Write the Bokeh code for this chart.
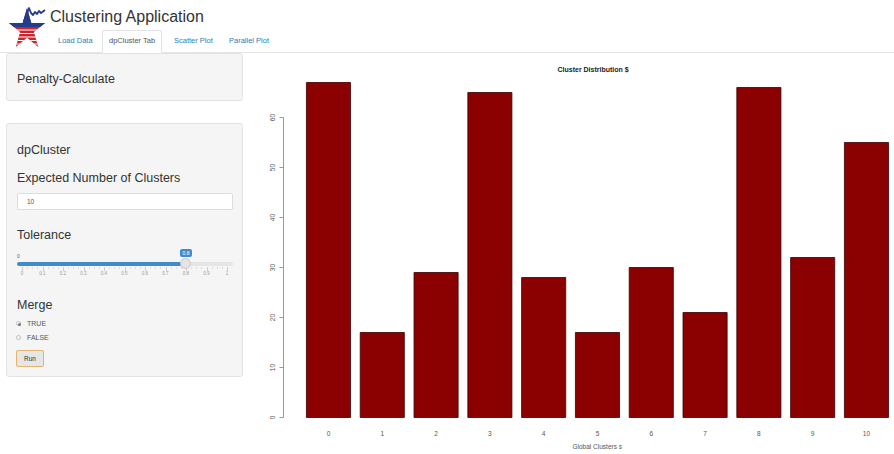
from bokeh.plotting import figure
from bokeh.models import Div, FixedTicker, Range1d, Title
from bokeh.layouts import column, row
from bokeh.embed import file_html
from bokeh.resources import INLINE

# ---------------- data ----------------
clusters = list(range(11))
counts = [67, 17, 29, 65, 28, 17, 30, 21, 66, 32, 55]
y_ticks = [0, 10, 20, 30, 40, 50, 60]
x_tick_labels = [str(c) for c in clusters]
chart_title = "Cluster Distribution $"
x_label = "Global Clusters s"

app_title = "Clustering Application"
tab_names = ["Load Data", "dpCluster Tab", "Scatter Plot", "Parallel Plot"]
slider_tick_labels = ["0", "0.1", "0.2", "0.3", "0.4", "0.5", "0.6", "0.7", "0.8", "0.9", "1"]
slider_value = 0.8
expected_clusters = "10"
merge_options = ["TRUE", "FALSE"]

FONT = "'Liberation Sans', Arial, sans-serif"

# ---------------- header ----------------
star = [(27, 8.1), (31.3, 23.0), (45.1, 23.0), (33.9, 32.1), (38.2, 47.0),
        (27, 37.8), (15.8, 47.0), (20.1, 32.1), (8.9, 23.0), (22.7, 23.0)]
stripes = "".join(f'<line x1="0" y1="{y}" x2="50" y2="{y}" stroke="#fff" stroke-width="1.2"/>'
                  for y in (30, 33.5, 37, 40.5, 44))
logo_svg = f"""
<svg width="50" height="50" viewBox="0 0 50 50" style="position:absolute;left:0;top:0">
 <defs><clipPath id="starclip"><polygon points="{' '.join(f'{x},{y}' for x, y in star)}"/></clipPath></defs>
 <g clip-path="url(#starclip)">
  <rect x="0" y="0" width="50" height="50" fill="#c9252f"/>
  {stripes}
  <rect x="0" y="0" width="50" height="27" fill="#203e8f"/>
 </g>
 <polyline points="24,21 27,14 29,8 31,13 33,15 35,12 37,14 39,11 41,13 45,10" fill="none" stroke="#203e8f" stroke-width="1.8" stroke-linejoin="round"/>
</svg>
"""

tab_lefts = [58, 109, 174, 229]
tabs_html = ""
for name, left in zip(tab_names, tab_lefts):
    color = "#555" if name == "dpCluster Tab" else "#337ab7"
    tabs_html += (f'<div style="position:absolute;left:{left}px;top:36px;font-size:7.5px;'
                  f'line-height:10px;color:{color};white-space:nowrap">{name}</div>')

header_html = f"""
<div style="position:relative;width:894px;height:53px;font-family:{FONT};overflow:hidden;background:#fff">
 <div style="position:absolute;left:0;top:52px;width:894px;height:1px;background:#e4e4e4"></div>
 <div style="position:absolute;left:102px;top:30px;width:60px;height:23px;background:#fff;border:1px solid #e4e4e4;border-bottom:none;border-radius:3px 3px 0 0"></div>
 {logo_svg}
 <div style="position:absolute;left:50px;top:8px;font-size:16px;line-height:18px;color:#333;white-space:nowrap">{app_title}</div>
 {tabs_html}
</div>
"""
header = Div(text=header_html, width=894, height=53, margin=0)

# ---------------- sidebar ----------------
def heading(txt, top):
    return (f'<div style="position:absolute;left:17px;top:{top}px;font-size:12.5px;line-height:16px;'
            f'color:#333;white-space:nowrap">{txt}</div>')

slider_html = ""
for k, lab in enumerate(slider_tick_labels):
    cx = 22 + 20.5 * k
    slider_html += f'<div style="position:absolute;left:{cx:.1f}px;top:214px;width:1px;height:4px;background:#ccc"></div>'
    slider_html += (f'<div style="position:absolute;left:{cx - 10:.1f}px;top:218px;width:20px;text-align:center;'
                    f'font-size:4.5px;line-height:6px;color:#999">{lab}</div>')
    if k < 10:
        for m in range(1, 4):
            mx = cx + 20.5 * m / 4
            slider_html += f'<div style="position:absolute;left:{mx:.1f}px;top:214px;width:1px;height:2px;background:#ddd"></div>'

handle_x = 22 + 20.5 * 10 * slider_value
radio_html = ""
for i, opt in enumerate(merge_options):
    cy = 271 + 14 * i
    dot = '<div style="position:absolute;left:1px;top:1px;width:3px;height:3px;border-radius:50%;background:#777"></div>' if i == 0 else ""
    radio_html += (f'<div style="position:absolute;left:16px;top:{cy - 3}px;width:5px;height:5px;border:1px solid #bbb;'
                   f'border-radius:50%;background:#fff">{dot}</div>')
    radio_html += (f'<div style="position:absolute;left:27px;top:{cy - 5}px;font-size:7px;line-height:10px;color:#555">{opt}</div>')

sidebar_html = f"""
<div style="position:relative;width:248px;height:401px;font-family:{FONT};overflow:hidden;background:#fff">
 <div style="position:absolute;left:6px;top:0;width:237px;height:48px;box-sizing:border-box;background:#f5f5f5;border:1px solid #e3e3e3;border-radius:3px"></div>
 {heading("Penalty-Calculate", 18)}
 <div style="position:absolute;left:6px;top:70px;width:237px;height:254px;box-sizing:border-box;background:#f5f5f5;border:1px solid #e3e3e3;border-radius:3px"></div>
 {heading("dpCluster", 89)}
 {heading("Expected Number of Clusters", 117)}
 <div style="position:absolute;left:17px;top:140px;width:216px;height:17px;box-sizing:border-box;background:#fff;border:1px solid #ddd;border-radius:2px;font-size:6.5px;line-height:15px;padding-left:9px;color:#555">{expected_clusters}</div>
 {heading("Tolerance", 174)}
 <div style="position:absolute;left:17px;top:200px;font-size:5px;line-height:7px;color:#555">0</div>
 <div style="position:absolute;left:17px;top:209px;width:216px;height:4px;background:#e5e5e5;border-radius:2px"></div>
 <div style="position:absolute;left:17px;top:209px;width:{handle_x - 17:.1f}px;height:4px;background:#428bca;border-radius:2px"></div>
 {slider_html}
 <div style="position:absolute;left:{handle_x - 6:.1f}px;top:205px;width:11px;height:11px;border-radius:50%;background:#e4e4e4;border:1px solid #c8c8c8"></div>
 <div style="position:absolute;left:{handle_x - 6:.1f}px;top:196px;width:12px;height:8px;background:#428bca;border-radius:2px;color:#fff;font-size:5px;line-height:8px;text-align:center">{slider_value}</div>
 {heading("Merge", 244)}
 {radio_html}
 <div style="position:absolute;left:16px;top:297px;width:28px;height:17px;box-sizing:border-box;background:#e6e6e6;border:1px solid #e3b46e;border-radius:2px;font-size:6.5px;line-height:15px;text-align:center;color:#333">Run</div>
</div>
"""
sidebar = Div(text=sidebar_html, width=248, height=401, margin=0)

# ---------------- chart ----------------
p = figure(width=646, height=401,
           x_range=Range1d(-0.836, 10.521), y_range=Range1d(-2.6, 68.2),
           output_backend="svg", toolbar_location=None,
           min_border_left=35, min_border_right=0, min_border_top=23, min_border_bottom=24)

p.vbar(x=clusters, top=counts, bottom=0, width=0.82,
       fill_color="#8b0000", line_color="#3a0000", line_width=0.8)

p.title.text = chart_title
p.title.align = "left"
p.title.offset = 274
p.title.standoff = 7
p.title.text_font = "Liberation Sans"
p.title.text_font_size = "7px"
p.title.text_font_style = "bold"
p.title.text_color = "#222"

p.xgrid.visible = False
p.ygrid.visible = False
p.outline_line_color = None
p.background_fill_color = "white"
p.border_fill_color = "white"

xa = p.xaxis[0]
xa.ticker = FixedTicker(ticks=clusters)
xa.major_label_overrides = {c: lab for c, lab in zip(clusters, x_tick_labels)}
xa.axis_line_color = None
xa.major_tick_line_color = None
xa.minor_tick_line_color = None
xa.major_tick_out = 0
xa.major_tick_in = 0
xa.major_label_standoff = 0
xa.major_label_text_font = "Liberation Sans"
xa.major_label_text_font_size = "6.5px"
xa.major_label_text_color = "#555"

xlab = Title(text=x_label, align="left", offset=289, standoff=5,
             text_font="Liberation Sans", text_font_size="6.5px",
             text_font_style="normal", text_color="#555")
p.add_layout(xlab, "below")

ya = p.yaxis[0]
ya.ticker = FixedTicker(ticks=y_ticks)
ya.bounds = (y_ticks[0], y_ticks[-1])
ya.axis_line_color = "#999"
ya.major_tick_line_color = "#999"
ya.major_tick_out = 4
ya.major_tick_in = 0
ya.minor_tick_line_color = None
ya.major_label_orientation = "vertical"
ya.major_label_standoff = 5
ya.major_label_text_font = "Liberation Sans"
ya.major_label_text_font_size = "6.5px"
ya.major_label_text_color = "#555"

layout = column(header, row(sidebar, p, spacing=0), spacing=0)

open("out.html", "w").write(file_html(layout, INLINE))
